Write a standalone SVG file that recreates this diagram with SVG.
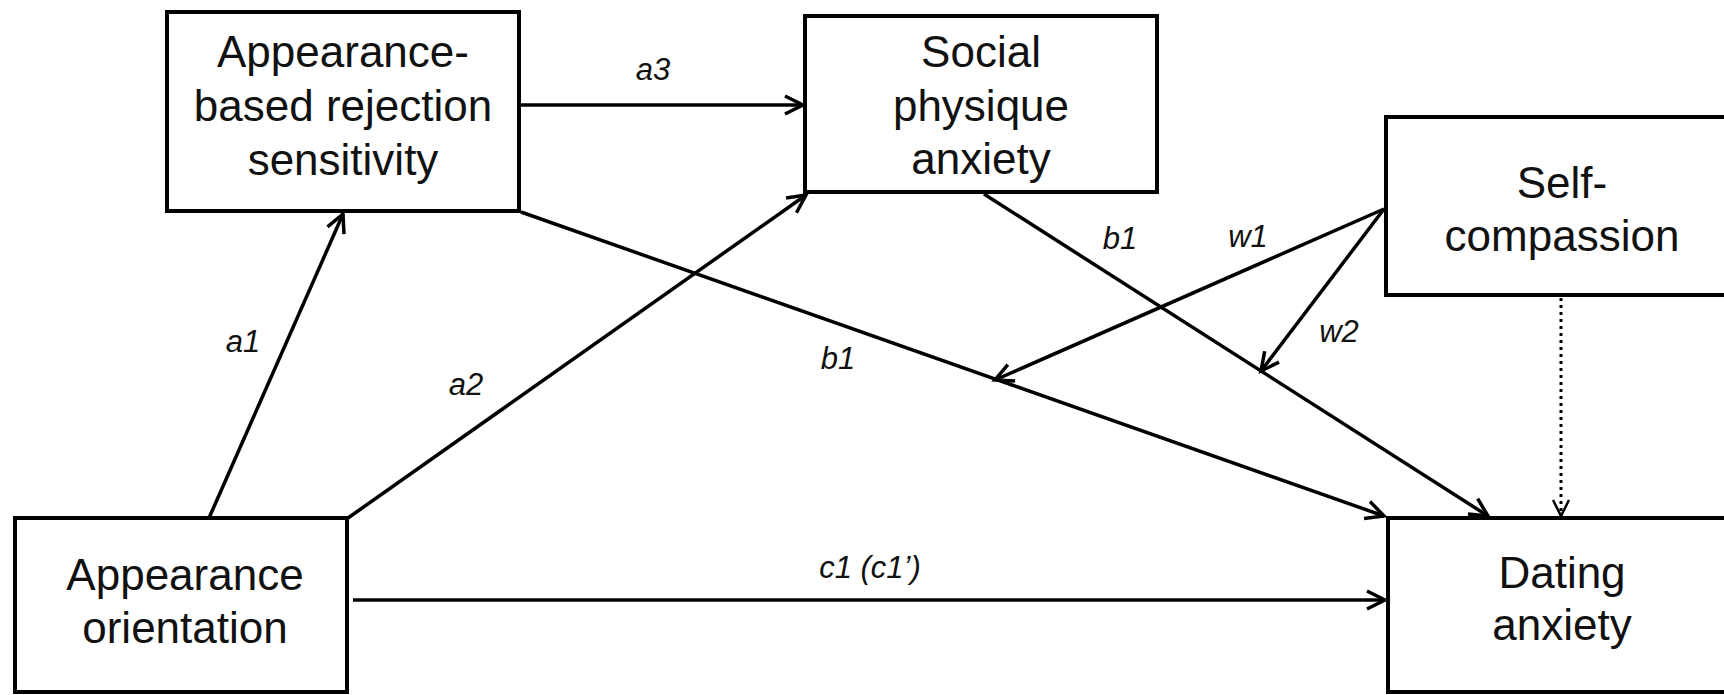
<svg xmlns="http://www.w3.org/2000/svg" width="1724" height="695" viewBox="0 0 1724 695">
<style>
.box{fill:#fff;stroke:#000;stroke-width:4}
.nt{font-family:"Liberation Sans",Arial,sans-serif;font-size:44px;fill:#111;text-anchor:middle}
.lb{font-family:"Liberation Sans",Arial,sans-serif;font-size:31px;font-style:italic;fill:#111;text-anchor:middle}
.ln{stroke:#000;stroke-width:3.5;fill:none;marker-end:url(#ah)}
.dt{stroke:#000;stroke-width:3;fill:none;stroke-dasharray:3 4;marker-end:url(#ahd)}
</style>
<defs>
<marker id="ah" markerUnits="userSpaceOnUse" viewBox="-24 -13 28 26" markerWidth="28" markerHeight="26" refX="0" refY="0" orient="auto">
<path d="M-18,-9 L0,0 L-18,9" fill="none" stroke="#000" stroke-width="3.5"/>
</marker>
<marker id="ahd" markerUnits="userSpaceOnUse" viewBox="-24 -13 28 26" markerWidth="28" markerHeight="26" refX="0" refY="0" orient="auto">
<path d="M-16,-8 L0,0 L-16,8" fill="none" stroke="#000" stroke-width="2.5"/>
</marker>
</defs>
<rect width="1724" height="695" fill="#fff"/>
<g id="connectors">
<line class="ln" x1="519" y1="105" x2="803" y2="105"/>
<line class="ln" x1="209" y1="518" x2="343" y2="214"/>
<line class="ln" x1="348" y1="518" x2="806" y2="195"/>
<line class="ln" x1="521" y1="212" x2="1384" y2="516"/>
<line class="ln" x1="984" y1="194" x2="1488" y2="516"/>
<line class="ln" x1="1384" y1="209" x2="995" y2="380"/>
<line class="ln" x1="1384" y1="209" x2="1261" y2="371"/>
<line class="ln" x1="353" y1="600" x2="1385" y2="600"/>
<line class="dt" x1="1561" y1="298" x2="1561" y2="516"/>
<text class="lb" x="653" y="80">a3</text>
<text class="lb" x="243" y="352">a1</text>
<text class="lb" x="466" y="395">a2</text>
<text class="lb" x="838" y="369">b1</text>
<text class="lb" x="1120" y="249">b1</text>
<text class="lb" x="1248" y="247">w1</text>
<text class="lb" x="1339" y="342">w2</text>
<text class="lb" x="870" y="578">c1 (c1’)</text>
</g>
<g id="ars">
<rect class="box" x="167" y="12" width="352" height="199"/>
<text class="nt" x="343" y="67">Appearance-</text>
<text class="nt" x="343" y="121">based rejection</text>
<text class="nt" x="343" y="175">sensitivity</text>
</g>
<g id="spa">
<rect class="box" x="805" y="16" width="352" height="176"/>
<text class="nt" x="981" y="67">Social</text>
<text class="nt" x="981" y="121">physique</text>
<text class="nt" x="981" y="174">anxiety</text>
</g>
<g id="selfcomp">
<rect class="box" x="1386" y="117" width="360" height="178"/>
<text class="nt" x="1562" y="198">Self-</text>
<text class="nt" x="1562" y="251">compassion</text>
</g>
<g id="ao">
<rect class="box" x="15" y="518" width="332" height="174"/>
<text class="nt" x="185" y="590">Appearance</text>
<text class="nt" x="185" y="643">orientation</text>
</g>
<g id="dating">
<rect class="box" x="1388" y="518" width="360" height="174"/>
<text class="nt" x="1562" y="588">Dating</text>
<text class="nt" x="1562" y="640">anxiety</text>
</g>
</svg>
